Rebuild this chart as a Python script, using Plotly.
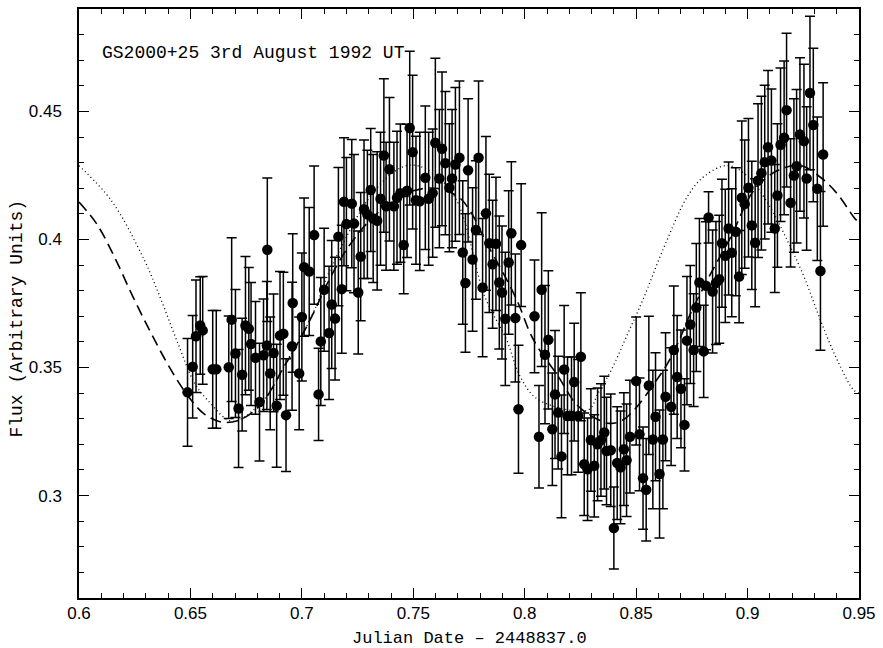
import plotly.graph_objects as go

# ---- data: Julian date offset, flux, error ----
jd = [0.6487, 0.6510, 0.6525, 0.6544, 0.6555, 0.6600, 0.6616, 0.6672, 0.6685, 0.6702,
      0.6716, 0.6732, 0.6747, 0.6762, 0.6772, 0.6792, 0.6810, 0.6828, 0.6843, 0.6845,
      0.6858, 0.6873, 0.6887, 0.6902, 0.6917, 0.6929, 0.6956, 0.6959, 0.6988, 0.7000,
      0.7010, 0.7033, 0.7055, 0.7075, 0.7085, 0.7100, 0.7122, 0.7134, 0.7149, 0.7164,
      0.7179, 0.7189, 0.7200, 0.7224, 0.7234, 0.7253, 0.7264, 0.7279, 0.7294, 0.7309,
      0.7320, 0.7338, 0.7353, 0.7368, 0.7378, 0.7393, 0.7413, 0.7427, 0.7442, 0.7457,
      0.7472, 0.7484, 0.7497, 0.7512, 0.7529, 0.7554, 0.7569, 0.7587, 0.7599, 0.7617,
      0.7629, 0.7644, 0.7662, 0.7674, 0.7689, 0.7707, 0.7722, 0.7734, 0.7746, 0.7766,
      0.7781, 0.7793, 0.7811, 0.7826, 0.7841, 0.7856, 0.7871, 0.7886, 0.7898, 0.7913,
      0.7928, 0.7940, 0.7958, 0.7972, 0.7984, 0.8044, 0.8064, 0.8076, 0.8091, 0.8106,
      0.8124, 0.8136, 0.8150, 0.8165, 0.8177, 0.8192, 0.8210, 0.8222, 0.8240, 0.8252,
      0.8267, 0.8282, 0.8297, 0.8312, 0.8327, 0.8342, 0.8357, 0.8367, 0.8386, 0.8400,
      0.8415, 0.8430, 0.8445, 0.8457, 0.8472, 0.8500, 0.8515, 0.8531, 0.8545, 0.8557,
      0.8575, 0.8587, 0.8605, 0.8620, 0.8632, 0.8657, 0.8669, 0.8684, 0.8701, 0.8717,
      0.8728, 0.8743, 0.8758, 0.8770, 0.8784, 0.8803, 0.8813, 0.8825, 0.8843, 0.8858,
      0.8873, 0.8885, 0.8900, 0.8915, 0.8929, 0.8947, 0.8962, 0.8974, 0.8987, 0.9004,
      0.9019, 0.9034, 0.9047, 0.9062, 0.9077, 0.9092, 0.9107, 0.9122, 0.9134, 0.9148,
      0.9164, 0.9175, 0.9193, 0.9208, 0.9220, 0.9235, 0.9253, 0.9265, 0.9280, 0.9295,
      0.9313, 0.9327, 0.9339]

flux = [0.3403, 0.3503, 0.3622, 0.3664, 0.3645, 0.3493, 0.3493, 0.3501, 0.3687, 0.3555,
        0.3340, 0.3472, 0.3664, 0.3651, 0.3592, 0.3538, 0.3365, 0.3548, 0.3586, 0.3960,
        0.3477, 0.3557, 0.3351, 0.3625, 0.3632, 0.3314, 0.3583, 0.3752, 0.3477, 0.3697,
        0.3892, 0.3875, 0.4017, 0.3395, 0.3602, 0.3804, 0.3635, 0.3746, 0.3691, 0.4011,
        0.3806, 0.4147, 0.4060, 0.4140, 0.4062, 0.3793, 0.3933, 0.4118, 0.4098, 0.4193,
        0.4082, 0.4073, 0.4159, 0.4328, 0.4130, 0.4274, 0.4130, 0.4163, 0.4181, 0.3978,
        0.4190, 0.4435, 0.4341, 0.4153, 0.4149, 0.4241, 0.4159, 0.4181, 0.4378, 0.4238,
        0.4354, 0.4298, 0.4202, 0.4238, 0.4293, 0.4319, 0.3949, 0.3830, 0.4270, 0.3922,
        0.4037, 0.4319, 0.3812, 0.4102, 0.3985, 0.3903, 0.3983, 0.3832, 0.3793, 0.3690,
        0.3910, 0.4024, 0.3693, 0.3337, 0.3978, 0.3700, 0.3230, 0.3804, 0.3550, 0.3608,
        0.3259, 0.3395, 0.3324, 0.3153, 0.3492, 0.3311, 0.3311, 0.3443, 0.3311, 0.3542,
        0.3122, 0.3103, 0.3217, 0.3116, 0.3200, 0.3217, 0.3246, 0.3174, 0.3177, 0.2873,
        0.3127, 0.3110, 0.3181, 0.3138, 0.3230, 0.3447, 0.3239, 0.3068, 0.3023, 0.3430,
        0.3219, 0.3308, 0.3084, 0.3219, 0.3386, 0.3347, 0.3568, 0.3463, 0.3417, 0.3276,
        0.3605, 0.3668, 0.3568, 0.3734, 0.3832, 0.3563, 0.3819, 0.4086, 0.3797, 0.3830,
        0.3845, 0.3985, 0.3936, 0.4043, 0.3948, 0.4030, 0.3855, 0.4163, 0.4138, 0.4202,
        0.4055, 0.3987, 0.4230, 0.4259, 0.4302, 0.4360, 0.4308, 0.4043, 0.4172, 0.4370,
        0.4397, 0.4505, 0.4143, 0.4250, 0.4286, 0.4410, 0.4384, 0.4238, 0.4572, 0.4447,
        0.4198, 0.3877, 0.4332]

flux_err = [0.021, 0.020, 0.022, 0.019, 0.021, 0.023, 0.023, 0.020, 0.032, 0.025,
            0.023, 0.022, 0.027, 0.024, 0.024, 0.022, 0.023, 0.022, 0.025, 0.028,
            0.022, 0.023, 0.024, 0.025, 0.024, 0.022, 0.025, 0.027, 0.022, 0.025,
            0.027, 0.025, 0.027, 0.018, 0.025, 0.024, 0.026, 0.025, 0.024, 0.027,
            0.025, 0.025, 0.026, 0.025, 0.027, 0.024, 0.025, 0.027, 0.025, 0.024,
            0.025, 0.027, 0.026, 0.030, 0.025, 0.028, 0.025, 0.026, 0.027, 0.019,
            0.026, 0.030, 0.030, 0.025, 0.027, 0.028, 0.026, 0.025, 0.033, 0.027,
            0.030, 0.028, 0.025, 0.027, 0.030, 0.030, 0.028, 0.027, 0.028, 0.028,
            0.027, 0.030, 0.027, 0.030, 0.027, 0.025, 0.026, 0.026, 0.026, 0.026,
            0.028, 0.028, 0.025, 0.025, 0.024, 0.022, 0.020, 0.030, 0.027, 0.027,
            0.022, 0.025, 0.022, 0.024, 0.025, 0.023, 0.023, 0.023, 0.022, 0.025,
            0.020, 0.020, 0.020, 0.020, 0.022, 0.022, 0.022, 0.021, 0.022, 0.016,
            0.022, 0.022, 0.022, 0.022, 0.022, 0.025, 0.022, 0.020, 0.020, 0.027,
            0.027, 0.025, 0.025, 0.027, 0.025, 0.023, 0.025, 0.024, 0.023, 0.018,
            0.025, 0.023, 0.022, 0.025, 0.025, 0.018, 0.025, 0.010, 0.024, 0.024,
            0.025, 0.025, 0.026, 0.026, 0.025, 0.025, 0.018, 0.030, 0.025, 0.027,
            0.025, 0.025, 0.030, 0.030, 0.030, 0.030, 0.028, 0.025, 0.028, 0.030,
            0.030, 0.030, 0.025, 0.030, 0.030, 0.030, 0.030, 0.028, 0.030, 0.030,
            0.028, 0.031, 0.028]

# ---- model curves ----
dash_x = [0.600, 0.608, 0.616, 0.624, 0.632, 0.640, 0.648, 0.656, 0.664, 0.672,
          0.681, 0.6854, 0.6913, 0.6958, 0.7018, 0.7063, 0.7107, 0.720, 0.730,
          0.740, 0.750, 0.760, 0.7703, 0.7763, 0.7822, 0.7912, 0.7971, 0.8024, 0.8061,
          0.815, 0.8225, 0.8284, 0.8329, 0.838, 0.8433, 0.8493, 0.8582, 0.8642, 0.8701,
          0.8731, 0.882, 0.8925, 0.9029, 0.9134, 0.9238, 0.9327, 0.9402, 0.9476, 0.950]
dash_y = [0.4146, 0.4060, 0.3930, 0.3780, 0.3640, 0.3510, 0.3400, 0.3320, 0.3287, 0.3295,
          0.3349, 0.3401, 0.3493, 0.3558, 0.3654, 0.3732, 0.3816, 0.3960, 0.4070,
          0.4145, 0.4190, 0.4200, 0.4166, 0.4100, 0.3997, 0.3855, 0.3751, 0.3635, 0.3576,
          0.3466, 0.3363, 0.3318, 0.3297, 0.3282, 0.3291, 0.3336, 0.3439, 0.3517, 0.3622,
          0.3686, 0.3843, 0.4011, 0.4192, 0.4269, 0.4289, 0.4243, 0.4179, 0.4088, 0.4065]

dot_x = [0.600, 0.6145, 0.6294, 0.6369, 0.6443, 0.6518, 0.6577, 0.669, 0.684, 0.6936,
         0.6973, 0.7063, 0.7107, 0.720, 0.730, 0.740, 0.748, 0.757, 0.769, 0.7822,
         0.7919, 0.7979, 0.806, 0.8284, 0.8329, 0.8389, 0.8463, 0.853, 0.863, 0.8731,
         0.8806, 0.891, 0.900, 0.9089, 0.9178, 0.9253, 0.9327, 0.9402, 0.9476, 0.950]
dot_y = [0.4288, 0.4152, 0.3918, 0.3763, 0.3596, 0.3440, 0.3373, 0.3290, 0.3385, 0.3531,
         0.3583, 0.3737, 0.3842, 0.4010, 0.4160, 0.4255, 0.4290, 0.4270, 0.4160, 0.3775,
         0.3608, 0.3466, 0.3375, 0.3334, 0.3399, 0.3491, 0.3634, 0.3764, 0.3980, 0.4169,
         0.4247, 0.4289, 0.4247, 0.4144, 0.3997, 0.3855, 0.3685, 0.3530, 0.3412, 0.3400]

x_ticks = [0.6, 0.65, 0.7, 0.75, 0.8, 0.85, 0.9, 0.95]
x_ticklabels = ["0.6", "0.65", "0.7", "0.75", "0.8", "0.85", "0.9", "0.95"]
y_ticks = [0.3, 0.35, 0.4, 0.45]
y_ticklabels = ["0.3", "0.35", "0.4", "0.45"]

title_text = "GS2000+25 3rd August 1992 UT"
x_title = "Julian Date \u2013 2448837.0"
y_title = "Flux (Arbitrary Units)"

fig = go.Figure()
fig.add_trace(go.Scatter(x=dot_x, y=dot_y, mode="lines", line_shape="spline",
                         line=dict(color="black", width=1.3, dash="1px,3px"),
                         hoverinfo="skip", showlegend=False))
fig.add_trace(go.Scatter(x=dash_x, y=dash_y, mode="lines", line_shape="spline",
                         line=dict(color="black", width=1.6, dash="11px,6px"),
                         hoverinfo="skip", showlegend=False))
fig.add_trace(go.Scatter(x=jd, y=flux, mode="markers",
                         marker=dict(color="black", size=10.5),
                         error_y=dict(type="data", array=flux_err, color="black",
                                      thickness=1.5, width=5),
                         showlegend=False))

axis_font = dict(family="Liberation Sans, Arial", size=17, color="black")
common = dict(showgrid=False, zeroline=False, showline=True, linecolor="black",
              linewidth=1.5, mirror="ticks", ticks="inside", ticklen=10,
              tickwidth=1.2, tickcolor="black", tickfont=axis_font)

fig.update_xaxes(range=[0.6, 0.95], tickvals=x_ticks, ticktext=x_ticklabels,
                 minor=dict(dtick=0.01, tick0=0.6, ticks="inside", ticklen=5,
                            tickwidth=1.2, tickcolor="black"),
                 ticklabelstandoff=-1, **common)
fig.update_yaxes(range=[0.26, 0.49], tickvals=y_ticks, ticktext=y_ticklabels,
                 minor=dict(dtick=0.01, tick0=0.26, ticks="inside", ticklen=5,
                            tickwidth=1.2, tickcolor="black"),
                 ticklabelstandoff=12, **common)

label_font = dict(family="Liberation Mono, Courier New, monospace", size=17, color="black")
fig.update_layout(
    width=883, height=648,
    margin=dict(l=79, r=21, t=7, b=50),
    paper_bgcolor="white", plot_bgcolor="white",
    annotations=[
        dict(text=title_text, xref="paper", yref="paper", x=0.027, y=0.926,
             xanchor="left", yanchor="middle", showarrow=False,
             font=dict(family="Liberation Mono, Courier New, monospace", size=18, color="black")),
        dict(text=x_title, xref="paper", yref="paper", x=0.5, y=-0.068,
             xanchor="center", yanchor="middle", showarrow=False, font=label_font),
        dict(text=y_title, xref="paper", yref="paper", x=-0.079, y=0.475,
             xanchor="center", yanchor="middle", textangle=-90, showarrow=False,
             font=dict(family="Liberation Mono, Courier New, monospace", size=18, color="black")),
    ],
)

fig.write_html("out.html")
